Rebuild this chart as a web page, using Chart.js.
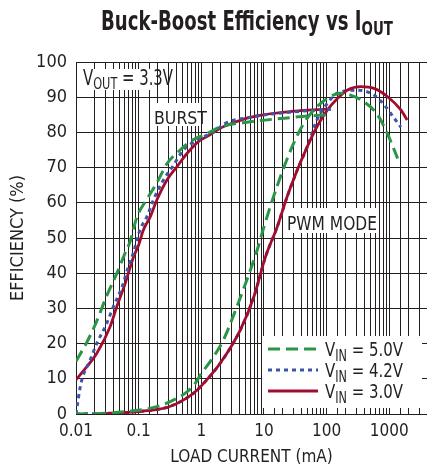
<!DOCTYPE html>
<html>
<head>
<meta charset="utf-8">
<script src="https://cdn.jsdelivr.net/npm/chart.js@4.4.0/dist/chart.umd.min.js"></script>
<style>
  body { margin: 0; background: #fff; }
  canvas { display: block; }
</style>
</head>
<body>
<canvas id="effChart" width="427" height="468"></canvas>
<script>
var FONT = "'Liberation Sans Narrow', 'DejaVu Sans Condensed', sans-serif";
var INK = "#231f20";

var seriesLabels = ["5.0V", "4.2V", "3.0V"];
var seriesColors = ["#2a9447", "#3b55a8", "#a30d2d"];
var decadeLabels = ["0.01", "0.1", "1", "10", "100", "1000"];

// burst mode branch, load current (mA) and efficiency (%)
var burst50Load = [0.01, 0.015, 0.021, 0.03, 0.045, 0.06, 0.073, 0.094, 0.135, 0.2, 0.28, 0.46, 0.75, 1.2, 2, 6, 20, 55, 120];
var burst50Eff  = [15, 20.5, 26, 33, 40, 45.5, 49, 56, 61, 66, 71, 75, 78, 79.5, 81.5, 83, 84, 84.7, 85];

var burst42Load = [0.01, 0.0105, 0.0115, 0.0125, 0.0168, 0.0214, 0.031, 0.0395, 0.054, 0.069, 0.083, 0.094, 0.106, 0.135, 0.172, 0.249, 0.36, 0.52, 0.85, 1.78, 2.26, 6, 38, 123];
var burst42Eff  = [0, 2.5, 7, 10, 15.3, 20, 25.8, 30.5, 36, 42, 46, 49.5, 52.5, 56, 60.8, 66.5, 70.7, 75, 77.8, 80.7, 82.3, 84.3, 86, 86.6];

var burst30Load = [0.01, 0.015, 0.0214, 0.035, 0.0448, 0.061, 0.083, 0.1, 0.119, 0.153, 0.195, 0.283, 0.41, 0.59, 0.96, 1.23, 2, 3, 6, 38, 100];
var burst30Eff  = [9.7, 13.5, 17.2, 24.8, 30.5, 37.1, 44.7, 48, 52.3, 56, 60.8, 66.5, 70.3, 74, 77.8, 78.8, 81.2, 82.5, 84.3, 86.2, 86.6];

// PWM mode branch
var pwm50Load = [0.01, 0.03, 0.065, 0.15, 0.32, 0.59, 0.8, 0.96, 1.57, 2.25, 3.7, 6.1, 7.8, 10, 14.2, 20.9, 29.6, 43, 70, 115, 165, 240, 395, 650, 930, 1200, 1360];
var pwm50Eff  = [0, 0.2, 0.7, 1.6, 3.5, 6.3, 8.7, 11, 16.3, 21, 30.5, 41, 46.6, 53.2, 61.7, 70.2, 76.8, 82.5, 87.3, 90.2, 91.1, 90.6, 88.7, 85, 79.7, 75, 72.6];

var pwm42Load = [0.01, 0.02, 0.05, 0.1, 0.2, 0.3, 0.5, 0.75, 1, 2, 4.2, 6.9, 10.6, 16.3, 23.4, 34, 49, 70, 100, 150, 310, 570, 830, 1200, 1530];
var pwm42Eff  = [0, 0.1, 0.3, 0.7, 1.3, 2, 3.8, 5.9, 8, 14.4, 23.9, 33.3, 44.7, 53.2, 61.7, 69.3, 75.9, 83.5, 88, 91.2, 92, 90.6, 87.8, 84, 81.5];

var pwm30Load = [0.02, 0.05, 0.1, 0.2, 0.3, 0.5, 0.75, 1, 2, 4.2, 6.9, 10.6, 16.3, 23.4, 34, 49, 70, 103, 150, 213, 350, 570, 930, 1530, 1930];
var pwm30Eff  = [0, 0.3, 0.7, 1.3, 2, 3.8, 5.9, 8, 14.4, 23.9, 33.3, 44.7, 53.2, 61.7, 69.3, 75.9, 81.6, 86.4, 89.7, 92, 93, 92.5, 90.2, 86.4, 83.5];

var dashes = [[12, 6], [4, 4], []];
var widths = [3, 3, 2.8];

function pts(xs, ys) {
    return xs.map(function (x, i) { return { x: x, y: ys[i] }; });
}

function curve(s, xs, ys) {
    return {
        data: pts(xs, ys),
        borderColor: seriesColors[s],
        borderWidth: widths[s],
        borderDash: dashes[s],
        borderCapStyle: "butt",
        pointRadius: 0,
        fill: false,
        cubicInterpolationMode: "monotone"
    };
}

// first dataset is painted last (on top)
var datasets = [
    curve(0, burst50Load, burst50Eff),
    curve(0, pwm50Load, pwm50Eff),
    curve(1, burst42Load, burst42Eff),
    curve(2, pwm30Load, pwm30Eff),
    curve(2, burst30Load, burst30Eff),
    curve(1, pwm42Load, pwm42Eff)
];

function font(size, bold) {
    return (bold ? "bold " : "") + size + "px " + FONT;
}

// text runs [text, size, drop], squeezed horizontally to fit width w
function runs(ctx, x, y, parts, w, bold) {
    var total = 0;
    parts.forEach(function (p) {
        ctx.font = font(p[1], bold);
        total += ctx.measureText(p[0]).width;
    });
    var k = w ? w / total : 1;
    ctx.save();
    ctx.translate(x, y);
    ctx.scale(k, 1);
    var cx = 0;
    parts.forEach(function (p) {
        ctx.font = font(p[1], bold);
        ctx.fillText(p[0], cx, p[2] || 0);
        cx += ctx.measureText(p[0]).width;
    });
    ctx.restore();
}

var whiteBoxes = [
    [77, 69, 75, 21],    // VOUT
    [150, 103, 51, 23],  // BURST
    [284, 208, 95, 25],  // PWM MODE
    [262, 336, 160, 72]  // legend
];

var decor = {
    id: "decor",
    beforeDatasetsDraw: function (chart) {
        var ctx = chart.ctx;
        ctx.save();
        ctx.fillStyle = "#fff";
        whiteBoxes.forEach(function (b) { ctx.fillRect(b[0], b[1], b[2], b[3]); });
        ctx.restore();
    },
    afterDatasetsDraw: function (chart) {
        var ctx = chart.ctx;
        ctx.save();
        ctx.fillStyle = INK;
        ctx.textBaseline = "alphabetic";
        ctx.textAlign = "left";

        runs(ctx, 101, 30, [["Buck-Boost Efficiency vs I", 27], ["OUT", 20, 5]], 292, true);
        runs(ctx, 83, 85, [["V", 21], ["OUT", 16, 4], [" = 3.3V", 21]], 90);
        runs(ctx, 154, 124, [["BURST", 18.5]], 53);
        runs(ctx, 287, 230, [["PWM MODE", 20]], 90);

        // legend
        var rows = [349, 370, 391];
        for (var i = 0; i < 3; i++) {
            ctx.save();
            ctx.strokeStyle = seriesColors[i];
            ctx.lineWidth = widths[i];
            ctx.setLineDash(dashes[i]);
            ctx.beginPath();
            ctx.moveTo(268, rows[i]);
            ctx.lineTo(318, rows[i]);
            ctx.stroke();
            ctx.restore();
            runs(ctx, 325, rows[i] + 7, [["V", 20], ["IN", 15, 5], [" = " + seriesLabels[i], 20]], 78);
        }
        ctx.restore();
    }
};

new Chart("effChart", {
    type: "line",
    data: { datasets: datasets },
    options: {
        responsive: false,
        animation: false,
        devicePixelRatio: 1,
        layout: { padding: { top: 62, left: 0, right: 0, bottom: 0 } },
        plugins: {
            legend: { display: false },
            tooltip: { enabled: false },
            title: { display: false }
        },
        scales: {
            x: {
                type: "logarithmic",
                min: 0.01,
                max: 4000,
                afterFit: function (s) {
                    s.height = 54;
                    s.paddingLeft = 0;
                    s.paddingRight = 0;
                },
                grid: { color: INK, lineWidth: 1, drawTicks: false },
                border: { color: INK, width: 1 },
                ticks: {
                    autoSkip: false,
                    maxRotation: 0,
                    padding: 7,
                    color: INK,
                    font: { family: FONT, size: 17 },
                    callback: function (v) {
                        var l = Math.log10(v);
                        var r = Math.round(l);
                        return Math.abs(l - r) < 1e-6 && decadeLabels[r + 2] ? decadeLabels[r + 2] : "";
                    }
                },
                title: {
                    display: true,
                    text: "LOAD CURRENT (mA)",
                    color: INK,
                    font: { family: FONT, size: 17 },
                    padding: { top: 0, bottom: 0 }
                }
            },
            y: {
                min: 0,
                max: 100,
                afterFit: function (s) {
                    s.width = 76;
                    s.paddingTop = 0;
                    s.paddingBottom = 0;
                },
                grid: { color: INK, lineWidth: 1, drawTicks: false },
                border: { color: INK, width: 1 },
                ticks: {
                    stepSize: 10,
                    padding: 9,
                    color: INK,
                    font: { family: FONT, size: 18 }
                },
                title: {
                    display: true,
                    text: "EFFICIENCY (%)",
                    color: INK,
                    font: { family: FONT, size: 18 },
                    padding: { top: 8, bottom: 0 }
                }
            }
        }
    },
    plugins: [decor]
});
</script>
</body>
</html>
